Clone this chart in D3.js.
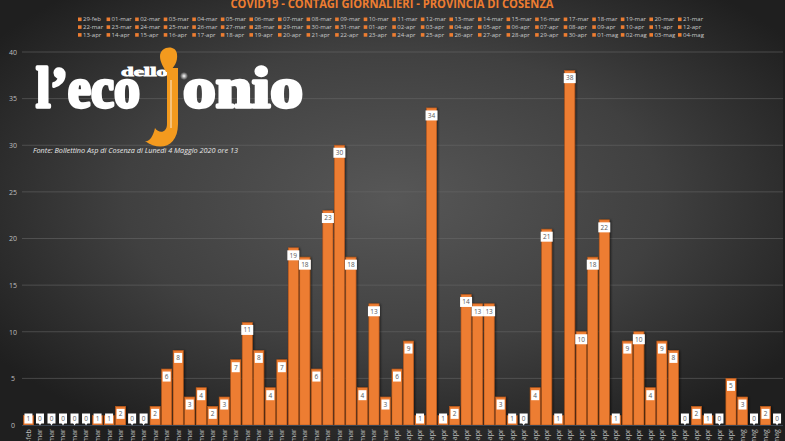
<!DOCTYPE html>
<html><head><meta charset="utf-8">
<script src="https://cdn.jsdelivr.net/npm/d3@7/dist/d3.min.js"></script>
<style>html,body{margin:0;padding:0;background:#262626;overflow:hidden}</style>
</head><body>
<svg id="c" width="785" height="441"></svg>
<script>
const dates = ["29-feb","01-mar","02-mar","03-mar","04-mar","05-mar","06-mar","07-mar","08-mar","09-mar","10-mar","11-mar","12-mar","13-mar","14-mar","15-mar","16-mar","17-mar","18-mar","19-mar","20-mar","21-mar","22-mar","23-mar","24-mar","25-mar","26-mar","27-mar","28-mar","29-mar","30-mar","31-mar","01-apr","02-apr","03-apr","04-apr","05-apr","06-apr","07-apr","08-apr","09-apr","10-apr","11-apr","12-apr","13-apr","14-apr","15-apr","16-apr","17-apr","18-apr","19-apr","20-apr","21-apr","22-apr","23-apr","24-apr","25-apr","26-apr","27-apr","28-apr","29-apr","30-apr","01-mag","02-mag","03-mag","04-mag"];
const contagi = [1,0,0,0,0,0,1,1,2,0,0,2,6,8,3,4,2,3,7,11,8,4,7,19,18,6,23,30,18,4,13,3,6,9,1,34,1,2,14,13,13,3,1,0,4,21,1,38,10,18,22,1,9,10,4,9,8,0,2,1,0,5,3,0,2,0];
const yTicks = [0,5,10,15,20,25,30,35,40];
const titleText = "COVID19 - CONTAGI GIORNALIERI  - PROVINCIA DI COSENZA";
const sourceText = "Fonte: Bollettino Asp di Cosenza di Lunedì 4 Maggio 2020 ore 13";

const svg = d3.select("#c");
const W = 785, H = 441;
const defs = svg.append("defs");
const rg = defs.append("radialGradient").attr("id","bg").attr("cx","50%").attr("cy","45%").attr("r","62%");
rg.append("stop").attr("offset","0%").attr("stop-color","#575757");
rg.append("stop").attr("offset","55%").attr("stop-color","#404040");
rg.append("stop").attr("offset","100%").attr("stop-color","#1f1f1f");
const sh = defs.append("filter").attr("id","sh").attr("x","-30%").attr("y","-10%").attr("width","160%").attr("height","120%");
sh.append("feDropShadow").attr("dx",1.2).attr("dy",0.5).attr("stdDeviation",0.8).attr("flood-color","#000").attr("flood-opacity",0.6);
const glow = defs.append("radialGradient").attr("id","glow");
glow.append("stop").attr("offset","0%").attr("stop-color","#ffffff").attr("stop-opacity",1);
glow.append("stop").attr("offset","100%").attr("stop-color","#ffffff").attr("stop-opacity",0);

svg.append("rect").attr("width",W).attr("height",H).attr("fill","url(#bg)");
svg.append("rect").attr("x",783).attr("width",2).attr("height",H).attr("fill","#1e1e1e");

const x = d3.scaleBand().domain(dates).range([22.7, 782.8]).paddingInner(0.12).paddingOuter(0.06);
const y = d3.scaleLinear().domain([0,40]).range([425,52]);

// grid
svg.append("g").selectAll("line").data(yTicks.filter(d=>d>0)).join("line")
  .attr("x1",22).attr("x2",783).attr("y1",d=>y(d)).attr("y2",d=>y(d))
  .attr("stroke","#6a6a6a").attr("stroke-opacity",0.55).attr("stroke-width",1);

// y axis
const ya = svg.append("g").attr("transform","translate(16,0)")
  .call(d3.axisLeft(y).tickValues(yTicks).tickSize(0).tickPadding(0));
ya.select(".domain").remove();
ya.selectAll("text").attr("fill","#bfbfbf").attr("font-family","'Open Sans', sans-serif").attr("font-size",7).attr("text-anchor","middle").attr("dx",-3);

// bars
svg.append("g").selectAll("rect").data(contagi).join("rect")
  .attr("x",(d,i)=>x(dates[i])).attr("width",x.bandwidth())
  .attr("y",d=>y(d)).attr("height",d=>y(0)-y(d))
  .attr("fill","#ED7D31").attr("stroke","#b8571a").attr("stroke-width",0.6)
  .attr("filter","url(#sh)");

// x axis line
svg.append("line").attr("x1",22).attr("x2",783).attr("y1",425.5).attr("y2",425.5).attr("stroke","#3b4552").attr("stroke-width",1.2);

// x labels
const xa = svg.append("g").attr("transform","translate(0,427)")
  .call(d3.axisBottom(x).tickSize(0).tickPadding(0));
xa.select(".domain").remove();
xa.selectAll("text").attr("fill","#bfbfbf").attr("font-family","'Open Sans', sans-serif").attr("font-size",7)
  .attr("text-anchor","end").attr("transform","rotate(-90)").attr("dx","-0.3em").attr("dy","0.35em").attr("y",0).attr("x",0);

// data labels
const lg = svg.append("g");
contagi.forEach((v,i)=>{
  const cx = x(dates[i]) + x.bandwidth()/2;
  const cy = Math.min(y(v)+7.5, 418.5);
  const s = String(v);
  const w = s.length>1 ? 12 : 8;
  if (v===0) {
    lg.append("path").attr("d",`M${cx-1.5},${cy+4.5} L${cx},${cy+7} L${cx+1.5},${cy+4.5} Z`).attr("fill","#ffffff");
  }
  lg.append("rect").attr("x",cx-w/2).attr("y",cy-5).attr("width",w).attr("height",10).attr("fill","#ffffff");
  lg.append("text").attr("x",cx).attr("y",cy).attr("dy","0.36em").attr("text-anchor","middle")
    .attr("font-family","'Open Sans', sans-serif").attr("font-size",6.5).attr("fill","#595959").text(s);
});

// title
svg.append("text").attr("x",392).attr("y",7.5).attr("text-anchor","middle")
  .attr("font-family","'Open Sans', sans-serif").attr("font-weight","bold").attr("font-size",12.5)
  .attr("fill","#ED7D31").attr("textLength",323).attr("lengthAdjust","spacingAndGlyphs").text(titleText);

// legend
const leg = svg.append("g");
dates.forEach((d,i)=>{
  const col = i % 22, row = Math.floor(i/22);
  const lx = 78 + col*28.57, ly = 19.5 + row*7.8;
  leg.append("rect").attr("x",lx).attr("y",ly-2).attr("width",3.6).attr("height",3.6).attr("fill","#ED7D31");
  leg.append("text").attr("x",lx+5).attr("y",ly).attr("dy","0.33em")
    .attr("font-family","'Open Sans', sans-serif").attr("font-size",6).attr("fill","#c9c9c9").text(d);
});

// logo
const logo = svg.append("g");
const serif = "'Liberation Serif', 'DejaVu Serif', serif";
logo.append("text").attr("x",36).attr("y",107)
  .attr("font-family",serif).attr("font-weight","bold").attr("font-size",58)
  .attr("fill","#ffffff").attr("stroke","#ffffff").attr("stroke-width",3.4).attr("stroke-linejoin","round")
  .attr("textLength",104).attr("lengthAdjust","spacingAndGlyphs").text("l’eco");
logo.append("text").attr("x",183).attr("y",107)
  .attr("font-family",serif).attr("font-weight","bold").attr("font-size",58)
  .attr("fill","#ffffff").attr("stroke","#ffffff").attr("stroke-width",3.4).attr("stroke-linejoin","round")
  .attr("textLength",120).attr("lengthAdjust","spacingAndGlyphs").text("onio");
logo.append("text").attr("x",121).attr("y",75.5)
  .attr("font-family",serif).attr("font-weight","bold").attr("font-size",13)
  .attr("fill","#ffffff").attr("stroke","#ffffff").attr("stroke-width",0.8)
  .attr("textLength",47).attr("lengthAdjust","spacingAndGlyphs").text("dello");
// orange J
logo.append("path").attr("d","M167,68 L178,68 L178,124 C178,147 160,152 145,141 C149,142 153,137 155,128 C159,134 167,133 167,124 Z").attr("fill","#F39A1E");
logo.append("path").attr("d","M160,56 C160,46 176,44 177,54 C178,62 174,67 169,72 L166,72 C163,66 160,62 160,56 Z").attr("fill","#F39A1E");
logo.append("line").attr("x1",171).attr("x2",171).attr("y1",80).attr("y2",128).attr("stroke","#ffffff").attr("stroke-width",0.8);
logo.append("circle").attr("cx",184).attr("cy",76).attr("r",4).attr("fill","url(#glow)");

// source
svg.append("text").attr("x",33).attr("y",153)
  .attr("font-family","'Open Sans', sans-serif").attr("font-style","italic").attr("font-size",7.6)
  .attr("fill","#e8e8e8").attr("textLength",205).attr("lengthAdjust","spacingAndGlyphs").text(sourceText);
</script>
</body></html>
